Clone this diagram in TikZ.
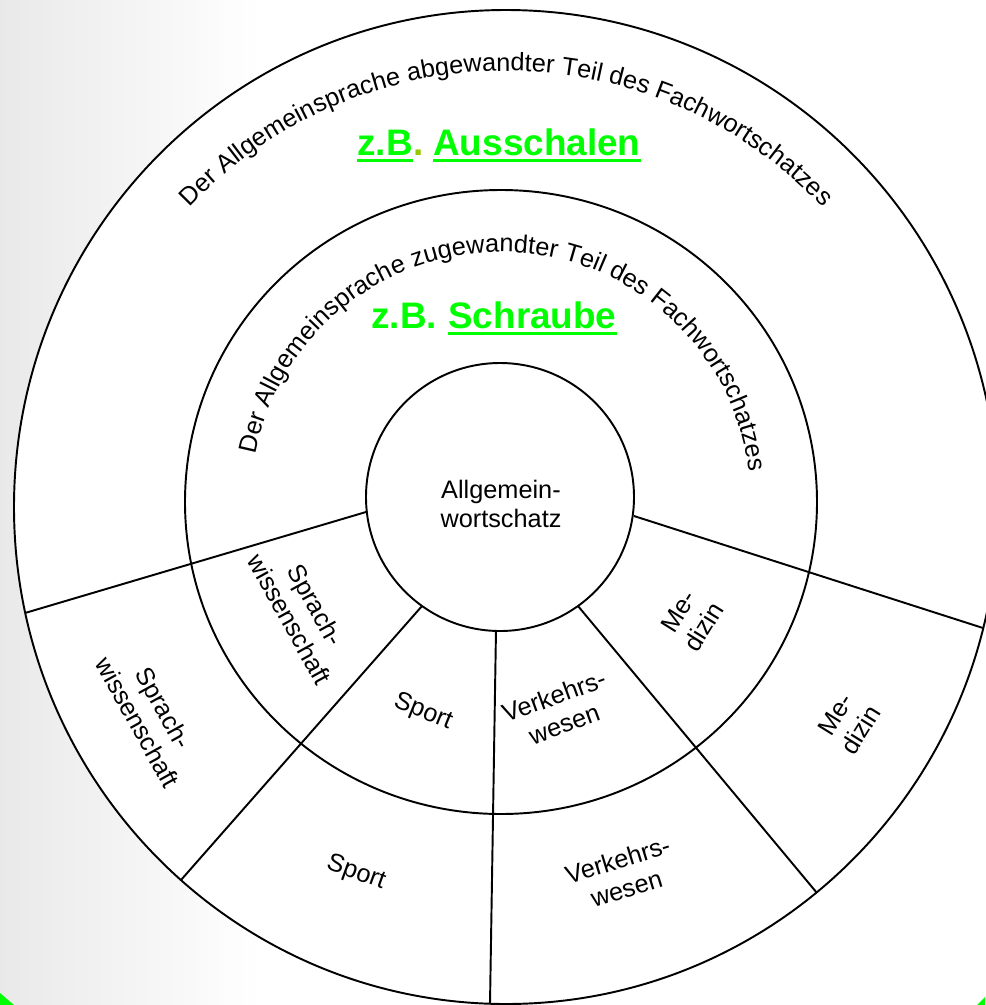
\documentclass[tikz,border=0pt]{standalone}
\usepackage{fontspec}
\setmainfont{Liberation Sans}
\usetikzlibrary{decorations.text}
\definecolor{zb_green}{RGB}{0, 255, 0}
\definecolor{dot_olive}{RGB}{150, 200, 0}
\definecolor{scan_grey}{RGB}{233, 233, 233}
\tikzstyle{ring}=[draw=black,line width=1.1pt]
\tikzstyle{cut}=[draw=black,line width=1.1pt]
\tikzstyle{lbl}=[align=center,inner sep=0pt,font=\fontsize{14.4}{17}\selectfont]
\tikzstyle{ex}=[text=zb_green,inner sep=0pt,font=\fontsize{21}{25}\selectfont\bfseries]
\tikzstyle{ul}=[draw=zb_green,line width=1.7pt]

\begin{document}
\begin{tikzpicture}[x=0.02cm,y=-0.02cm]
    \useasboundingbox (0,0) rectangle (985,1005);
    \shade[left color=scan_grey,right color=white] (0,0) rectangle (260,1005);
    \fill[white] (506,507) ellipse [x radius=492,y radius=497];
    \fill[zb_green] (0,993) -- (0,1005) -- (14,1005) -- cycle;
    \fill[zb_green] (985,997) -- (985,1005) -- (977,1005) -- cycle;
    % the three rings
    \draw[ring] (506,507) ellipse [x radius=492,y radius=497];
    \draw[ring] (501,502) ellipse [x radius=316,y radius=312];
    \draw[ring] (500,497) circle [radius=134];
    % cuts between the fields
    \coordinate (i1) at (366,512);
    \coordinate (o1) at (25,613);
    \coordinate (i2) at (422,606);
    \coordinate (o2) at (181,880);
    \coordinate (i3) at (496,630);
    \coordinate (o3) at (490,1004);
    \coordinate (i4) at (578,606);
    \coordinate (o4) at (817,893);
    \coordinate (i5) at (634,516);
    \coordinate (o5) at (983,628);
    \draw[cut] (i1) to (o1);
    \draw[cut] (i2) to (o2);
    \draw[cut] (i3) to (o3);
    \draw[cut] (i4) to (o4);
    \draw[cut] (i5) to (o5);
    % ring texts
    \path[decorate,decoration={text along path,text align=center,
      text={|\fontsize{14.4}{17}\selectfont|Der Allgemeinsprache abgewandter Teil des Fachwortschatzes}}]
      (506,507) ++(180:436) arc [start angle=180,end angle=360,radius=436];
    \path[decorate,decoration={text along path,text align=center,
      text={|\fontsize{14.4}{17}\selectfont|Der Allgemeinsprache zugewandter Teil des Fachwortschatzes}}]
      (501,502) ++(182:250) arc [start angle=182,end angle=362,radius=250];
    % examples
    \node [style=ex,anchor=base west] (zb1) at (357,155) {z.B};
    \node [style=ex,anchor=base west,text=dot_olive] (dot1) at (zb1.base east) {.};
    \node [style=ex,anchor=base west] (aus) at (433,155) {Ausschalen};
    \draw[ul] ([yshift=-3.2pt]zb1.base west) to ([yshift=-3.2pt]zb1.base east);
    \draw[ul] ([yshift=-3.2pt]aus.base west) to ([yshift=-3.2pt]aus.base east);
    \node [style=ex,anchor=base west] (zb2) at (371,328) {z.B.};
    \node [style=ex,anchor=base west] (schr) at (448,328) {Schraube};
    \draw[ul] ([yshift=-3.2pt]schr.base west) to ([yshift=-3.2pt]schr.base east);
    % fields
    \node [style=lbl] (allg) at (501,504) {Allgemein-\\wortschatz};
    \node [style=lbl,rotate=-61] (sw2) at (303,612) {Sprach-\\wissenschaft};
    \node [style=lbl,rotate=-22] (sp2) at (423,712) {Sport};
    \node [style=lbl,rotate=20] (vw2) at (559,710) {Verkehrs-\\wesen};
    \node [style=lbl,rotate=58] (md2) at (691,619) {Me-\\dizin};
    \node [style=lbl,rotate=-61] (sw1) at (151,715) {Sprach-\\wissenschaft};
    \node [style=lbl,rotate=-20] (sp1) at (356,873) {Sport};
    \node [style=lbl,rotate=17] (vw1) at (622,874) {Verkehrs-\\wesen};
    \node [style=lbl,rotate=58] (md1) at (848,722) {Me-\\dizin};
\end{tikzpicture}
\end{document}
